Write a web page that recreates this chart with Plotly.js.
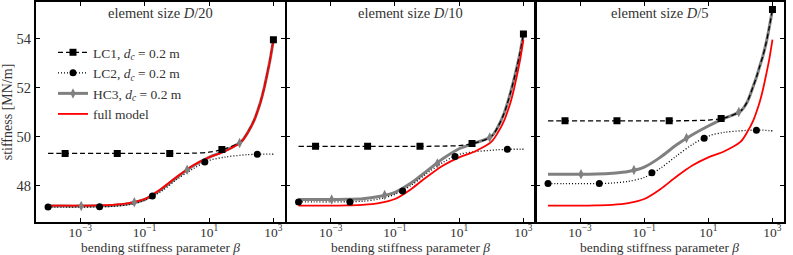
<!DOCTYPE html>
<html><head><meta charset="utf-8">
<script src="https://cdn.plot.ly/plotly-3.0.1.min.js"></script>
<style>html,body{margin:0;padding:0;background:#fff}#chart{width:793px;height:255px}</style>
</head><body><div id="chart"></div>
<script>
// log10(beta) grid on which the curves are sampled
const logBeta = [-4,-3.5,-3,-2.5,-2,-1.5,-1,-0.5,0,0.5,1,1.5,2,2.2,2.4,2.5,2.6,2.7,2.8,2.9,3];
// full model (identical in all three panels)
const fullModel = [47.18,47.18,47.18,47.19,47.21,47.28,47.45,47.85,48.36,48.82,49.15,49.40,49.78,50.15,50.65,51.0,51.4,51.9,52.5,53.15,53.95];
// element size D/20
const lc1_D20 = [49.31,49.31,49.31,49.31,49.31,49.31,49.31,49.31,49.31,49.32,49.36,49.50,49.80,50.17,50.67,51.02,51.42,51.92,52.52,53.17,53.95];
const lc2_D20 = [47.12,47.12,47.12,47.13,47.15,47.22,47.40,47.75,48.25,48.68,49.02,49.16,49.24,49.26,49.27,49.28,49.28,49.28,49.28,49.28,49.28];
const hc3_D20 = [47.16,47.16,47.16,47.17,47.19,47.26,47.43,47.83,48.33,48.80,49.15,49.42,49.79,50.16,50.66,51.01,51.41,51.91,52.51,53.16,53.95];
// element size D/10
const lc1_D10 = [49.60,49.60,49.60,49.60,49.60,49.60,49.60,49.60,49.60,49.61,49.63,49.74,50.00,50.38,50.95,51.35,51.80,52.30,52.85,53.45,54.18];
const lc2_D10 = [47.33,47.33,47.33,47.34,47.36,47.45,47.64,48.00,48.50,48.95,49.27,49.38,49.44,49.46,49.47,49.48,49.48,49.48,49.48,49.48,49.48];
const hc3_D10 = [47.43,47.43,47.43,47.44,47.46,47.55,47.72,48.10,48.60,49.10,49.50,49.74,50.00,50.38,50.95,51.35,51.80,52.30,52.85,53.45,54.18];
// element size D/5
const lc1_D5 = [50.64,50.64,50.64,50.64,50.64,50.64,50.64,50.64,50.64,50.65,50.67,50.76,51.03,51.38,52.05,52.42,52.85,53.28,53.80,54.45,55.18];
const lc2_D5 = [48.08,48.08,48.08,48.08,48.10,48.17,48.33,48.70,49.20,49.67,50.02,50.17,50.23,50.25,50.26,50.26,50.26,50.26,50.25,50.24,50.23];
const hc3_D5 = [48.46,48.46,48.46,48.47,48.50,48.57,48.75,49.15,49.65,50.07,50.43,50.74,51.03,51.38,52.05,52.42,52.85,53.28,53.80,54.45,55.18];
// marker positions (log10 beta) and values
const lc1MarkLog = [-3.47,-1.85,-0.22,1.4,3.0];
const lc2MarkLog = [-4.0,-2.4,-0.76,0.87,2.5];
const hc3MarkLog = [-2.97,-1.32,0.32,1.95];
const lc1Mark_D20 = [49.31,49.31,49.31,49.47,53.95];
const lc2Mark_D20 = [47.12,47.13,47.57,48.96,49.28];
const hc3Mark_D20 = [47.16,47.32,48.64,49.74];
const lc1Mark_D10 = [49.60,49.60,49.60,49.71,54.18];
const lc2Mark_D10 = [47.33,47.33,47.78,49.18,49.48];
const hc3Mark_D10 = [47.43,47.61,48.90,49.96];
const lc1Mark_D5 = [50.64,50.64,50.64,50.73,55.18];
const lc2Mark_D5 = [48.08,48.08,48.52,49.93,50.26];
const hc3Mark_D5 = [48.46,48.63,49.94,51.00];

const panelTitles = ['element size <i>D</i>/20','element size <i>D</i>/10','element size <i>D</i>/5'];
const seriesNames = ['LC1, <i>d<sub>c</sub></i> = 0.2 m','LC2, <i>d<sub>c</sub></i> = 0.2 m','HC3, <i>d<sub>c</sub></i> = 0.2 m','full model'];
const xTitle = 'bending stiffness parameter <i>β</i>';
const yTitle = 'stiffness [MN/m]';
const xTickVals = [1e-3,1e-1,1e1,1e3];
const xTickText = ['10<sup>−3</sup>','10<sup>−1</sup>','10<sup>1</sup>','10<sup>3</sup>'];
const yTickVals = [48,50,52,54];
const yTickText = ['48','50','52','54'];

const toBeta = a => a.map(v => Math.pow(10, v));
const FONT = 'Liberation Serif, Times New Roman, serif';
const TXT = '#333';

const styles = {
  lc1: {line:{color:'#000',width:1.3,dash:'5px,3px'}, marker:{symbol:'square',size:7,color:'#000'}},
  lc2: {line:{color:'#000',width:1.3,dash:'1px,2px'}, marker:{symbol:'circle',size:7,color:'#000'}},
  hc3: {line:{color:'#808080',width:3}, marker:{symbol:'diamond-tall',size:7.5,color:'#808080'}},
  fm:  {line:{color:'#ff0000',width:1.8}}
};

const panels = [
  {lc1:lc1_D20, lc2:lc2_D20, hc3:hc3_D20, m1:lc1Mark_D20, m2:lc2Mark_D20, m3:hc3Mark_D20},
  {lc1:lc1_D10, lc2:lc2_D10, hc3:hc3_D10, m1:lc1Mark_D10, m2:lc2Mark_D10, m3:hc3Mark_D10},
  {lc1:lc1_D5,  lc2:lc2_D5,  hc3:hc3_D5,  m1:lc1Mark_D5,  m2:lc2Mark_D5,  m3:hc3Mark_D5}
];

const xb = toBeta(logBeta);
const traces = [];
panels.forEach((p, i) => {
  const xa = i === 0 ? 'x' : 'x' + (i + 1);
  const ya = i === 0 ? 'y' : 'y' + (i + 1);
  const ln = (y, st) => ({x: xb, y: y, xaxis: xa, yaxis: ya, mode: 'lines', showlegend: false, hoverinfo: 'skip',
    line: Object.assign({shape: 'spline', smoothing: 0.9}, st.line)});
  const mk = (lx, y, st) => ({x: toBeta(lx), y: y, xaxis: xa, yaxis: ya, mode: 'markers', showlegend: false, hoverinfo: 'skip',
    marker: Object.assign({line: {width: 0}}, st.marker)});
  traces.push(ln(p.hc3, styles.hc3));
  traces.push(ln(p.lc1, styles.lc1));
  traces.push(ln(p.lc2, styles.lc2));
  traces.push(ln(fullModel, styles.fm));
  traces.push(mk(hc3MarkLog, p.m3, styles.hc3));
  traces.push(mk(lc2MarkLog, p.m2, styles.lc2));
  traces.push(mk(lc1MarkLog, p.m1, styles.lc1));
});
// legend entries
['lc1','lc2','hc3','fm'].forEach((k, j) => {
  const st = styles[k];
  const t = {x: [null], y: [null], xaxis: 'x', yaxis: 'y', name: seriesNames[j], showlegend: true,
    mode: k === 'fm' ? 'lines' : 'lines+markers', line: st.line};
  if (st.marker) t.marker = Object.assign({line: {width: 0}}, st.marker);
  traces.push(t);
});

const W = 793, H = 255;
const xDomains = [[35.5/W, 285/W], [286/W, 535/W], [535.5/W, 784/W]];
const yDomain = [(H - 222.3)/H, (H - 1.7)/H];
const layout = {
  width: W, height: H, margin: {l: 0, r: 0, t: 0, b: 0},
  paper_bgcolor: '#fff', plot_bgcolor: '#fff',
  font: {family: FONT, color: TXT, size: 14},
  showlegend: true,
  legend: {x: 53/W, y: (H - 37)/H, xanchor: 'left', yanchor: 'top', bgcolor: 'rgba(0,0,0,0)',
    borderwidth: 0, font: {family: FONT, size: 13.5, color: TXT}, tracegroupgap: 0},
  annotations: []
};
for (let i = 0; i < 3; i++) {
  const s = i === 0 ? '' : String(i + 1);
  layout['xaxis' + s] = {
    domain: xDomains[i], anchor: 'y' + s, type: 'log', range: [-4.39, 3.36],
    tickmode: 'array', tickvals: xTickVals, ticktext: xTickText,
    ticks: 'inside', ticklen: 4, tickwidth: 1, tickcolor: '#000',
    showline: true, linecolor: '#000', linewidth: 1.5, mirror: 'ticks',
    showgrid: false, zeroline: false, automargin: false, ticklabelstandoff: -3,
    tickfont: {family: FONT, size: 13.5, color: TXT}
  };
  layout['yaxis' + s] = {
    domain: yDomain, anchor: 'x' + s, range: [46.5, 55.5],
    tickmode: 'array', tickvals: yTickVals, ticktext: yTickText, showticklabels: i === 0,
    ticks: 'inside', ticklen: 4, tickwidth: 1, tickcolor: '#000',
    showline: true, linecolor: '#000', linewidth: 1.5, mirror: 'ticks',
    showgrid: false, zeroline: false, automargin: false,
    tickfont: {family: FONT, size: 14.5, color: TXT},
    title: i === 0 ? {text: yTitle, font: {family: FONT, size: 14, color: TXT}, standoff: 4} : {text: ''}
  };
  layout.annotations.push({
    text: panelTitles[i], xref: 'paper', yref: 'paper',
    x: (xDomains[i][0] + xDomains[i][1]) / 2, y: (H - 13)/H, xanchor: 'center', yanchor: 'middle',
    showarrow: false, font: {family: FONT, size: 14.5, color: TXT}
  });
  layout.annotations.push({
    text: xTitle, xref: 'paper', yref: 'paper',
    x: (xDomains[i][0] + xDomains[i][1]) / 2, y: (H - 247)/H, xanchor: 'center', yanchor: 'middle',
    showarrow: false, font: {family: FONT, size: 13.5, color: TXT}
  });
}
Plotly.newPlot('chart', traces, layout, {staticPlot: true, displayModeBar: false});
</script>
</body></html>
